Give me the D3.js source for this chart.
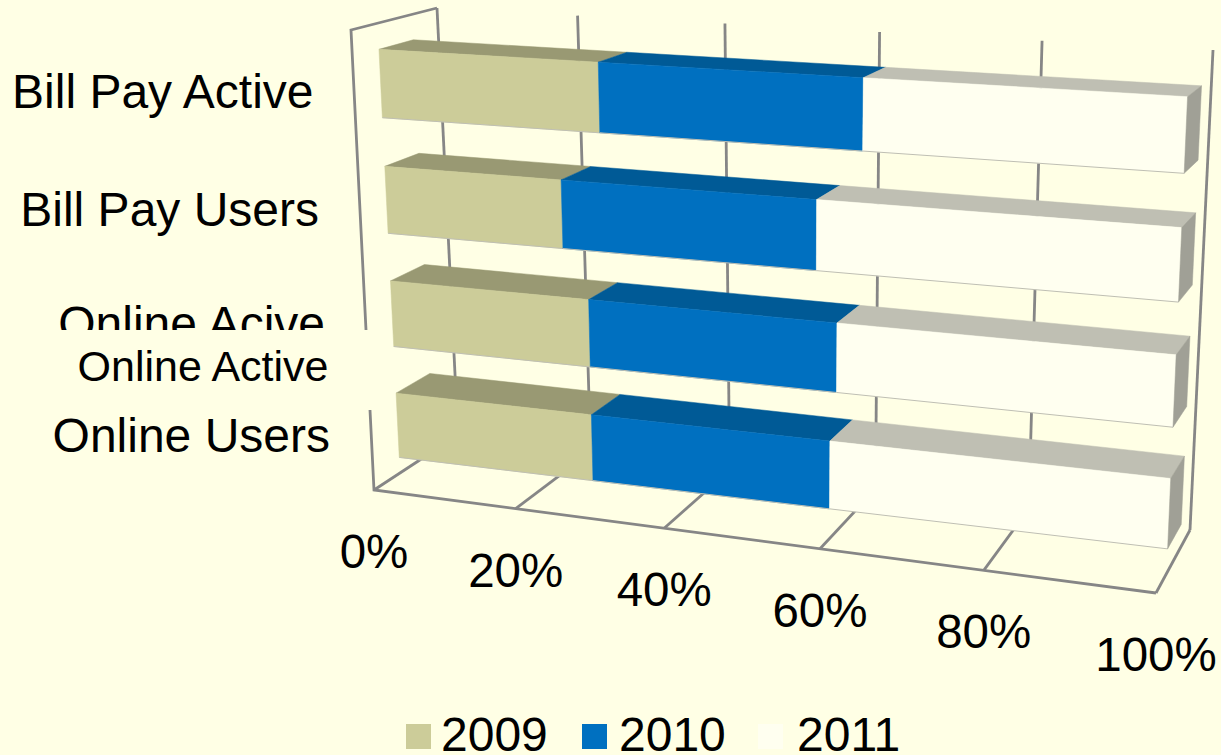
<!DOCTYPE html>
<html>
<head>
<meta charset="utf-8">
<script src="https://cdnjs.cloudflare.com/ajax/libs/d3/7.8.5/d3.min.js"></script>
<style>
  html, body { margin: 0; padding: 0; background: #FFFFE5; overflow: hidden; }
  text { font-family: "Liberation Sans", Arial, sans-serif; fill: #000; }
</style>
</head>
<body>
<svg id="chart" width="1221" height="755"></svg>
<script>
// Share of each group by year (percent of the 100% stacked bar)
const categories = ["Bill Pay Active", "Bill Pay Users", "Online Acive", "Online Users"];
const years = ["2009", "2010", "2011"];
const values2009 = [29.6, 24.3, 27.6, 27.6];
const values2010 = [33.2, 32.9, 32.2, 31.4];
const values2011 = [37.2, 42.8, 40.2, 41.0];
const percentTicks = [0, 20, 40, 60, 80, 100];
const overlayLabel = "Online Active";

const frontColors = ["#CCCC99", "#0070C0", "#FFFFF0"];
const topColors = ["#999973", "#005A96", "#BFBFB3"];
const sideColor = "#A0A096";
const axisColor = "#868686";

// Corners of the 3D plot box on screen: [left, right] for each edge
const box = {
  frontTop: [[351, 30], [1178, 75]],
  frontBottom: [[374, 490], [1156, 593]],
  backTop: [[437, 8], [1213, 50]],
  backBottom: [[458, 435], [1190, 530]]
};
const foreshortenX = 1.13;
const foreshortenY = 0.96;
const barSag = 0.015;

const pct = d3.scaleLinear().domain([0, 100]).range([0, 1]);
const band = d3.scaleBand().domain(categories).range([0.003, 1.017]).paddingInner(0.418).paddingOuter(0.209);
const depth = d3.scaleLinear().domain([0, 1]).range([0.31, 0.71]);

const mix = (a, b, t) => [a[0] + (b[0] - a[0]) * t, a[1] + (b[1] - a[1]) * t];
const persp = (t, k) => t / (t + k * (1 - t));
const alongBar = p => persp(pct(p), foreshortenX);

// Maps percent along the bar, height fraction and depth fraction to the screen
function project(p, v, z) {
  const u = alongBar(p);
  const edge = e => mix(e[0], e[1], u);
  const front = mix(edge(box.frontTop), edge(box.frontBottom), v);
  const back = mix(edge(box.backTop), edge(box.backBottom), v);
  return mix(front, back, z);
}

// Bar corners: height foreshortens toward the floor and toward the near end
function projectBar(p, band0, z) {
  const v = persp(band0, foreshortenY);
  return project(p, v * (1 - barSag * alongBar(p) * v), z);
}

const svg = d3.select("#chart");
const line = d3.line();
const poly = pts => line(pts) + "Z";

// Back wall gridlines, floor ticks and the outline of the box
const axes = svg.append("g").attr("fill", "none").attr("stroke", axisColor)
  .attr("stroke-width", 2.8).attr("stroke-linejoin", "miter");
axes.selectAll("path.grid").data(percentTicks).join("path").attr("class", "grid")
  .attr("d", p => line([project(p, 0, 1), project(p, 1, 1)]));
axes.selectAll("path.floor").data(percentTicks).join("path").attr("class", "floor")
  .attr("d", p => line([project(p, 1, 1), project(p, 1, 0)]));
axes.append("path").attr("d", line([project(0, 0, 1), project(0, 0, 0), project(0, 1, 0), project(100, 1, 0)]));

// Category labels, placed by hand beside each bar
const labelAnchor = [[313.5, 108], [319, 226], [325, 340], [330, 452]];
const labels = svg.append("g").attr("text-anchor", "end").attr("font-size", 48);
labels.selectAll("text").data(categories).join("text")
  .attr("x", (d, i) => labelAnchor[i][0])
  .attr("y", (d, i) => labelAnchor[i][1])
  .text(d => d);

// Cover strip with the corrected label written on it
svg.append("rect").attr("x", 0).attr("y", 330).attr("width", 388).attr("height", 80).attr("fill", "#FFFFE5");
svg.append("text").attr("x", 328.5).attr("y", 381).attr("text-anchor", "end").attr("font-size", 43).text(overlayLabel);

// Stacked bars, one group of faces per year
const rows = categories.map((c, i) => ({ c, values: [values2009[i], values2010[i], values2011[i]] }));
const stack = d3.stack().keys([0, 1, 2]).value((d, k) => d.values[k]);
const series = stack(rows);
const [zFront, zBack] = [depth(0), depth(1)];

const bars = svg.append("g");
series.forEach((s, k) => {
  const g = bars.append("g");
  g.selectAll("path.top").data(s).join("path").attr("class", "top")
    .attr("d", d => {
      const v = band(d.data.c);
      return poly([projectBar(d[0], v, zFront), projectBar(d[1], v, zFront), projectBar(d[1], v, zBack), projectBar(d[0], v, zBack)]);
    })
    .attr("fill", topColors[k]).attr("stroke", topColors[k]).attr("stroke-width", 0.5);
  g.selectAll("path.front").data(s).join("path").attr("class", "front")
    .attr("d", d => {
      const v = band(d.data.c), w = v + band.bandwidth();
      return poly([projectBar(d[0], v, zFront), projectBar(d[1], v, zFront), projectBar(d[1], w, zFront), projectBar(d[0], w, zFront)]);
    })
    .attr("fill", frontColors[k]).attr("stroke", frontColors[k]).attr("stroke-width", 0.5);
  // Thin pale edge under each segment
  g.selectAll("path.edge").data(s).join("path").attr("class", "edge")
    .attr("d", d => {
      const w = band(d.data.c) + band.bandwidth();
      return line([projectBar(d[0], w, zFront), projectBar(d[1], w, zFront)]);
    })
    .attr("fill", "none").attr("stroke", "#BFBFB3").attr("stroke-width", 1);
});
// Right-hand end caps of the full bars
bars.selectAll("path.side").data(categories).join("path").attr("class", "side")
  .attr("d", c => {
    const v = band(c), w = v + band.bandwidth();
    return poly([projectBar(100, v, zFront), projectBar(100, v, zBack), projectBar(100, w, zBack), projectBar(100, w, zFront)]);
  })
  .attr("fill", sideColor).attr("stroke", sideColor).attr("stroke-width", 0.5);

// Percent labels under the floor's front edge
svg.append("g").attr("text-anchor", "middle").attr("font-size", 47.5)
  .selectAll("text").data(percentTicks).join("text")
  .attr("x", p => project(p, 1, 0)[0])
  .attr("y", p => project(p, 1, 0)[1] + 78)
  .text(p => p + "%");

// Legend
const legendX = d3.scalePoint().domain(years).range([406, 758]);
const legendTextX = d3.scalePoint().domain(years).range([441, 797]);
const legend = svg.append("g").selectAll("g").data(years).join("g");
legend.append("rect").attr("x", y => legendX(y)).attr("y", 724).attr("width", 25).attr("height", 25)
  .attr("fill", (y, i) => frontColors[i]);
legend.append("text").attr("x", y => legendTextX(y)).attr("y", 751).attr("font-size", 48).text(y => y);
</script>
</body>
</html>
